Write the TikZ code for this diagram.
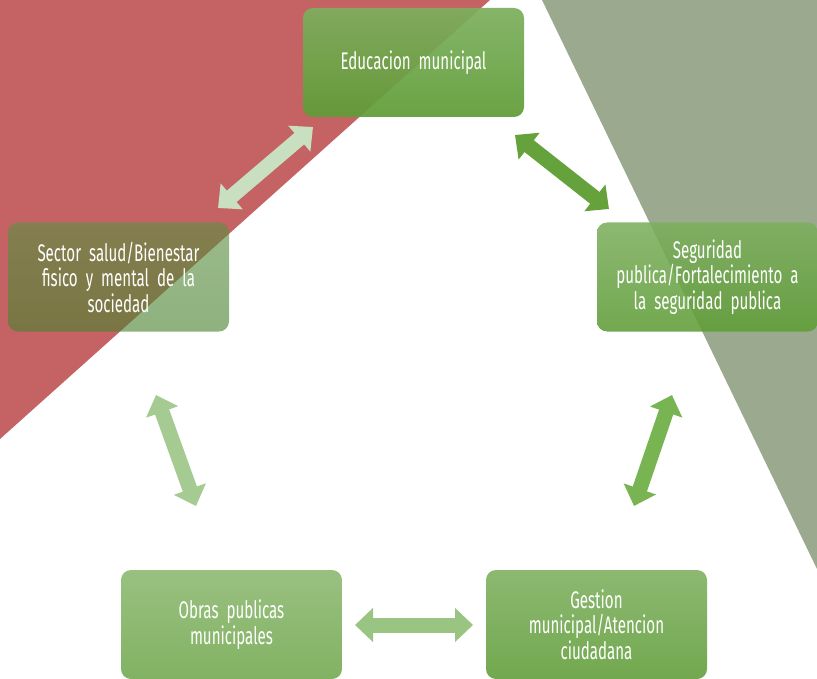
\documentclass[tikz,border=0pt]{standalone}
\usepackage{fontspec}
\setmainfont{Fira Sans}[FakeStretch=0.63]
\usetikzlibrary{arrows.meta}
\definecolor{bgred}{HTML}{C56364}
\definecolor{bggray}{HTML}{9BAA8F}
\definecolor{boxtop}{HTML}{7DAF5E}
\definecolor{boxbot}{HTML}{5F9D37}
\definecolor{saltop}{HTML}{5E9044}
\definecolor{salbot}{HTML}{4A8230}
\definecolor{arA}{HTML}{C8DFC0}
\definecolor{arB}{HTML}{66A23C}
\definecolor{arC}{HTML}{A5CB92}
\definecolor{arD}{HTML}{78B552}
\definecolor{arE}{HTML}{99C482}
\tikzset{
  box/.style={rounded corners=10pt, minimum width=221pt, minimum height=109pt,
    top color=boxtop, bottom color=boxbot, fill opacity=#1, text opacity=1,
    text=white, align=center, text width=210pt,
    font=\fontsize{24}{25.5}\selectfont, inner sep=0pt},
  box/.default=0.9,
  bigarrow/.style={line width=15pt,
    {Triangle[width=33pt,length=18pt]}-{Triangle[width=33pt,length=18pt]}}
}
\begin{document}
\begin{tikzpicture}[x=1pt,y=-1pt]
\useasboundingbox (0,0) rectangle (817,679);
\fill[white] (0,0) rectangle (817,679);
\fill[bgred] (0,0) -- (490,0) -- (0,439) -- cycle;
\fill[bggray] (542,0) -- (817,0) -- (817,569) -- cycle;

\node[box=0.93] (edu) at (413.5,62.5) {Educacion municipal};
\node[box=0.62, top color=saltop, bottom color=salbot] (sal) at (118.5,277) {Sector salud/Bienestar\\fisico y mental de la\\sociedad};
\node[box=0.88] (seg) at (707.5,277) {Seguridad\\publica/Fortalecimiento a\\la seguridad publica};
\node[box=0.78] (obr) at (231.5,624.5) {Obras publicas\\municipales};
\node[box=0.88] (ges) at (596.5,624.5) {Gestion\\municipal/Atencion\\ciudadana};

\coordinate (a1) at (313,127);
\coordinate (a2) at (218,208);
\coordinate (b1) at (515,135);
\coordinate (b2) at (609,209);
\coordinate (c1) at (156,395);
\coordinate (c2) at (196,506);
\coordinate (d1) at (672,395);
\coordinate (d2) at (634,506);
\coordinate (e1) at (355,625);
\coordinate (e2) at (473,625);

\draw[bigarrow, arA] (a1) -- (a2);
\draw[bigarrow, arB] (b1) -- (b2);
\draw[bigarrow, arC] (c1) -- (c2);
\draw[bigarrow, arD] (d1) -- (d2);
\draw[bigarrow, arE] (e1) -- (e2);
\end{tikzpicture}
\end{document}
